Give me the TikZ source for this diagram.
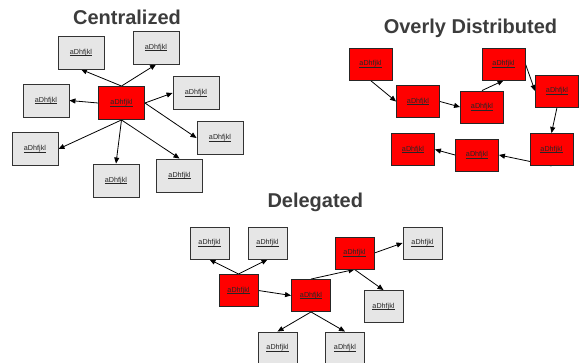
\documentclass[tikz,border=0pt]{standalone}
\usepackage{fontspec}
\setmainfont{Liberation Sans}
\usetikzlibrary{arrows.meta,backgrounds}
\definecolor{boxgrey}{HTML}{E6E6E6}
\definecolor{edgegrey}{HTML}{333333}
\definecolor{titlegrey}{HTML}{3C3C3C}
% underlined placeholder label
\newcommand\itemlabel{\setbox0\hbox{aDhfjkl}\rlap{\rule[-1.1pt]{\wd0}{0.45pt}}\box0}
\tikzset{
  box/.style={draw=edgegrey, line width=0.9pt, inner sep=0pt,
    font=\fontsize{7.2}{8}\selectfont, text=black!85},
  greybox/.style={box, fill=boxgrey},
  redbox/.style={box, fill=red, draw=black!85},
  cen/.style={minimum width=46pt, minimum height=33pt},
  ovr/.style={minimum width=43pt, minimum height=32pt},
  del/.style={minimum width=39pt, minimum height=32pt},
  heading/.style={anchor=base, text=titlegrey, font=\fontsize{20}{24}\bfseries\selectfont},
  link/.style={draw=black, line width=0.8pt, -{Triangle[length=6pt,width=5pt]}}
}
\begin{document}
\begin{tikzpicture}[x=1pt,y=-1pt]
\useasboundingbox (0,0) rectangle (582,363);

% headings
\node[heading] (tcen) at (127,24.5) {Centralized};
\node[heading] (tovr) at (470.5,33.5) {Overly Distributed};
\node[heading] (tdel) at (315.3,207.5) {Delegated};

% centralized: one hub with eight spokes
\node[redbox,cen]  (c)  at (121.5,103)  {\itemlabel};
\node[greybox,cen] (c1) at (81,52.5)    {\itemlabel};
\node[greybox,cen] (c2) at (156,47.5)   {\itemlabel};
\node[greybox,cen] (c3) at (46,100.5)   {\itemlabel};
\node[greybox,cen] (c4) at (196,93)     {\itemlabel};
\node[greybox,cen] (c5) at (220,138)    {\itemlabel};
\node[greybox,cen] (c6) at (35,149)     {\itemlabel};
\node[greybox,cen] (c7) at (116,180.5)  {\itemlabel};
\node[greybox,cen] (c8) at (179.5,175.5){\itemlabel};

% overly distributed: a long chain
\node[redbox,ovr] (o1) at (370.5,64)   {\itemlabel};
\node[redbox,ovr] (o2) at (418,101.5)  {\itemlabel};
\node[redbox,ovr] (o3) at (482,107)    {\itemlabel};
\node[redbox,ovr] (o4) at (503.5,64)   {\itemlabel};
\node[redbox,ovr] (o5) at (557,91)     {\itemlabel};
\node[redbox,ovr] (o6) at (551.5,149.5){\itemlabel};
\node[redbox,ovr] (o7) at (477,155)    {\itemlabel};
\node[redbox,ovr] (o8) at (413,149.5)  {\itemlabel};

% delegated: a small hierarchy
\node[redbox,del]  (d1) at (238.5,290.5) {\itemlabel};
\node[redbox,del]  (d2) at (311,295.5)   {\itemlabel};
\node[redbox,del]  (d3) at (354.5,253)   {\itemlabel};
\node[greybox,del] (g1) at (209.5,243)   {\itemlabel};
\node[greybox,del] (g2) at (267.5,243)   {\itemlabel};
\node[greybox,del] (g3) at (422.5,243)   {\itemlabel};
\node[greybox,del] (g4) at (383.5,306.5) {\itemlabel};
\node[greybox,del] (g5) at (277.5,348)   {\itemlabel};
\node[greybox,del] (g6) at (345,348)     {\itemlabel};

\begin{scope}[on background layer]
  % hub spokes
  \draw[link] (c.north) -- (c1.south);
  \draw[link] (c.north) -- (c2.south);
  \draw[link] (c.west)  -- (c3.east);
  \draw[link] (c.east)  -- (c4.west);
  \draw[link] (c.east)  -- (c5.west);
  \draw[link] (c.south) -- (c6.east);
  \draw[link] (c.south) -- (c7.north);
  \draw[link] (c.south) -- (c8.north);
  % chain
  \draw[link] (o1.south) -- (o2.west);
  \draw[link] (o2.east)  -- (o3.west);
  \draw[link] (o3.north) -- (o4.south);
  \draw[link] (o4.east)  -- (o5.west);
  \draw[link] (o5.south) -- (o6.north);
  \draw[link] (o6.south) -- (o7.east);
  \draw[link] (o7.west)  -- (o8.east);
  % hierarchy
  \draw[link] (d1.north) -- (g1.south);
  \draw[link] (d1.north) -- (g2.south);
  \draw[link] (d1.east)  -- (d2.west);
  \draw[link] (d2.north) -- (d3.south);
  \draw[link] (d3.east)  -- (g3.west);
  \draw[link] (d3.south) -- (g4.north);
  \draw[link] (d2.south) -- (g5.north);
  \draw[link] (d2.south) -- (g6.north);
\end{scope}
\end{tikzpicture}
\end{document}
